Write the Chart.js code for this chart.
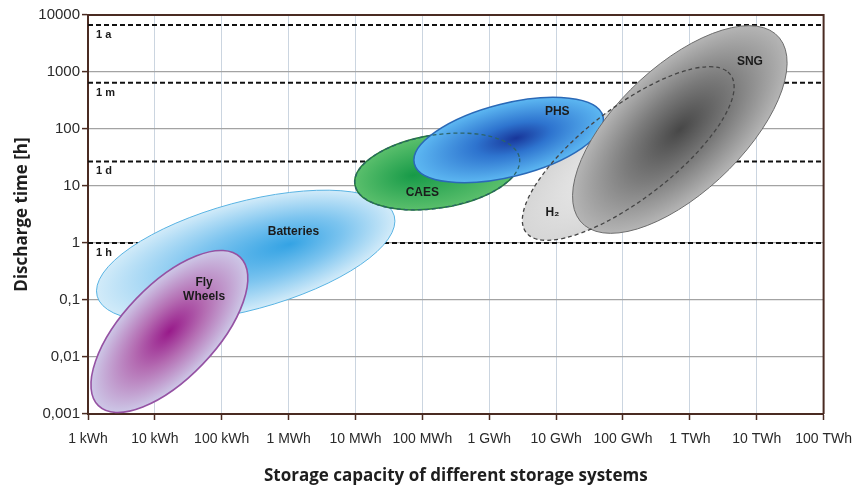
<!DOCTYPE html>
<html>
<head>
<meta charset="utf-8">
<script src="https://cdn.jsdelivr.net/npm/chart.js@4.4.1/dist/chart.umd.min.js"></script>
<style>
  html, body { margin: 0; padding: 0; background: #fff; }
  #wrap { width: 863px; height: 486px; position: relative; }
</style>
</head>
<body>
<div id="wrap"><canvas id="storage_chart"></canvas></div>
<script>
// axis ticks (capacity in kWh, discharge time in h)
var xTickValues = [1, 10, 100, 1e3, 1e4, 1e5, 1e6, 1e7, 1e8, 1e9, 1e10, 1e11];
var xTickLabels = ['1 kWh', '10 kWh', '100 kWh', '1 MWh', '10 MWh', '100 MWh',
                   '1 GWh', '10 GWh', '100 GWh', '1 TWh', '10 TWh', '100 TWh'];
var yTickValues = [0.001, 0.01, 0.1, 1, 10, 100, 1000, 10000];
var yTickLabels = ['0,001', '0,01', '0,1', '1', '10', '100', '1000', '10000'];

// reference durations (dashed lines)
var periodNames = ['1 h', '1 d', '1 m', '1 a'];
var periodHours = [1, 27, 650, 6700];

// each system: [end of long axis, other end of long axis, end of short axis] as [kWh, h]
var flyWheels = [[1.43, 0.0014], [190, 0.56], [52, 0.0075]];
var batteries = [[1.37, 0.117], [38000, 2.99], [369, 0.0718]];
var caes      = [[9800, 10.6], [2.84e6, 30.5], [2.03e5, 4.18]];
var phs       = [[75900, 24.6], [5.03e7, 167], [2.65e6, 15.3]];
var hydrogen  = [[3.87e6, 1.38], [3.71e9, 1000], [4.1e8, 11.1]];
var sng       = [[2.29e7, 2.43], [2.19e10, 3950], [2.78e9, 13.5]];

// text labels inside the areas [kWh, h]
var labelTexts = ['Batteries', 'Fly', 'Wheels', 'CAES', 'PHS', 'H\u2082', 'SNG'];
var labelSpots = [[1180, 1.56], [54.4, 0.199], [54.4, 0.113], [1e5, 7.5], [1.04e7, 199], [8.8e6, 3.36], [7.9e9, 1500]];

var ellipseStyles = [
    {pts: batteries, stops: [[0, '#34a3e4'], [0.5, '#7cc4ef'], [1, '#d2ebf9']], focus: 0.3, stroke: '#58b3e3', width: 1},
    {pts: flyWheels, stops: [[0, '#981a8a'], [0.45, '#b46cb2'], [1, '#cdc8e7']], focus: 0, stroke: '#9552a3', width: 1.6},
    {pts: caes, stops: [[0, '#179a48'], [1, '#5abf6c']], focus: -0.3, stroke: '#237c3a', width: 1.5},
    {pts: hydrogen, stops: [[0, '#f0f0f0'], [1, '#d6d6d6']], focus: 0, stroke: null, width: 0},
    {pts: phs, stops: [[0, '#18369a'], [0.4, '#2e74cf'], [1, '#5db8f2']], focus: 0.08, stroke: '#2a69b7', width: 1.5},
    {pts: caes, stops: null, stroke: '#2c6468', width: 1.3, dash: [4, 3]},
    {pts: sng, stops: [[0, '#474747'], [0.5, '#7b7b7b'], [1, '#b5b5b5']], focus: 0, stroke: '#6c6c6c', width: 1},
    {pts: hydrogen, stops: null, stroke: '#444', width: 1.3, dash: [4, 3]}
];

var ellipsePlugin = {
    id: 'ellipses',
    afterDatasetsDraw: function(chart) {
        var ctx = chart.ctx;
        var xs = chart.scales.x, ys = chart.scales.y;
        ellipseStyles.forEach(function(s) {
            var a = [xs.getPixelForValue(s.pts[0][0]), ys.getPixelForValue(s.pts[0][1])];
            var b = [xs.getPixelForValue(s.pts[1][0]), ys.getPixelForValue(s.pts[1][1])];
            var m = [xs.getPixelForValue(s.pts[2][0]), ys.getPixelForValue(s.pts[2][1])];
            var cx = (a[0] + b[0]) / 2, cy = (a[1] + b[1]) / 2;
            ctx.save();
            ctx.transform(b[0] - cx, b[1] - cy, m[0] - cx, m[1] - cy, cx, cy);
            ctx.beginPath();
            ctx.arc(0, 0, 1, 0, Math.PI * 2);
            if (s.stops) {
                var g = ctx.createRadialGradient(s.focus, 0, 0, 0, 0, 1);
                s.stops.forEach(function(st) { g.addColorStop(st[0], st[1]); });
                ctx.fillStyle = g;
                ctx.fill();
            }
            ctx.restore();
            if (s.stroke) {
                ctx.save();
                ctx.strokeStyle = s.stroke;
                ctx.lineWidth = s.width;
                ctx.setLineDash(s.dash || []);
                ctx.stroke();
                ctx.restore();
            }
        });

        // names of the systems
        ctx.save();
        ctx.font = 'bold 12px "Liberation Sans", Arial, sans-serif';
        ctx.fillStyle = '#1b1b1b';
        ctx.textAlign = 'center';
        ctx.textBaseline = 'middle';
        for (var i = 0; i < labelTexts.length; ++i) {
            ctx.fillText(labelTexts[i], xs.getPixelForValue(labelSpots[i][0]), ys.getPixelForValue(labelSpots[i][1]));
        }
        // names of the dashed lines
        ctx.font = 'bold 11px "Liberation Sans", Arial, sans-serif';
        ctx.textAlign = 'left';
        for (var j = 0; j < periodNames.length; ++j) {
            ctx.fillText(periodNames[j], xs.left + 8, ys.getPixelForValue(periodHours[j]) + 10);
        }
        ctx.restore();
    },
    afterDraw: function(chart) {
        // brown frame on top and right
        var ctx = chart.ctx, area = chart.chartArea;
        ctx.save();
        ctx.strokeStyle = '#4a2b22';
        ctx.lineWidth = 2;
        ctx.beginPath();
        ctx.moveTo(area.left, area.top);
        ctx.lineTo(area.right, area.top);
        ctx.lineTo(area.right, area.bottom);
        ctx.stroke();
        ctx.restore();
    }
};

var periodDatasets = periodHours.map(function(h, i) {
    return {
        label: periodNames[i],
        data: [{x: xTickValues[0], y: h}, {x: xTickValues[xTickValues.length - 1], y: h}],
        showLine: true,
        borderColor: '#111',
        borderWidth: 2,
        borderDash: [5, 3],
        pointRadius: 0,
        fill: false
    };
});

var chart_storage = document.getElementById('storage_chart');

let chartStorage = new Chart(chart_storage, {
    type: 'scatter',
    data: {
        datasets: periodDatasets
    },
    plugins: [ellipsePlugin],
    options: {
        responsive: true,
        maintainAspectRatio: false,
        animation: false,
        layout: {
            padding: {top: 15, right: 34, left: 0, bottom: 0}
        },
        plugins: {
            legend: {display: false},
            tooltip: {enabled: false}
        },
        scales: {
            x: {
                type: 'logarithmic',
                min: xTickValues[0],
                max: xTickValues[xTickValues.length - 1],
                afterBuildTicks: function(axis) {
                    axis.ticks = xTickValues.map(function(v) { return {value: v}; });
                },
                afterFit: function(axis) { axis.height = 72; },
                grid: {
                    color: '#cbd5e0',
                    lineWidth: 1,
                    tickColor: '#4a2b22',
                    tickLength: 6,
                    tickWidth: 1.5
                },
                border: {color: '#4a2b22', width: 2},
                ticks: {
                    autoSkip: false,
                    maxRotation: 0,
                    padding: 11,
                    color: '#2a2a2a',
                    font: {family: '"Liberation Sans", Arial, sans-serif', size: 14},
                    callback: function(value, index) {
                        return xTickLabels[index];
                    }
                },
                title: {
                    display: true,
                    text: 'Storage capacity of different storage systems',
                    color: '#1e1e1e',
                    font: {family: '"Open Sans", sans-serif', size: 17, weight: 'bold'},
                    padding: {top: 0, bottom: 0}
                }
            },
            y: {
                type: 'logarithmic',
                min: yTickValues[0],
                max: yTickValues[yTickValues.length - 1],
                afterBuildTicks: function(axis) {
                    axis.ticks = yTickValues.map(function(v) { return {value: v}; });
                },
                afterFit: function(axis) { axis.width = 88; },
                grid: {
                    color: '#a3a3a3',
                    lineWidth: 1.2,
                    tickColor: '#4a2b22',
                    tickLength: 6,
                    tickWidth: 1.5
                },
                border: {color: '#4a2b22', width: 2},
                ticks: {
                    autoSkip: false,
                    padding: 2,
                    color: '#2a2a2a',
                    font: {family: '"Liberation Sans", Arial, sans-serif', size: 15},
                    callback: function(value, index) {
                        return yTickLabels[index];
                    }
                },
                title: {
                    display: true,
                    text: 'Discharge time [h]',
                    color: '#1e1e1e',
                    font: {family: '"Open Sans", sans-serif', size: 17, weight: 'bold'},
                    padding: {top: 12, bottom: 0}
                }
            }
        }
    }
});
</script>
</body>
</html>
